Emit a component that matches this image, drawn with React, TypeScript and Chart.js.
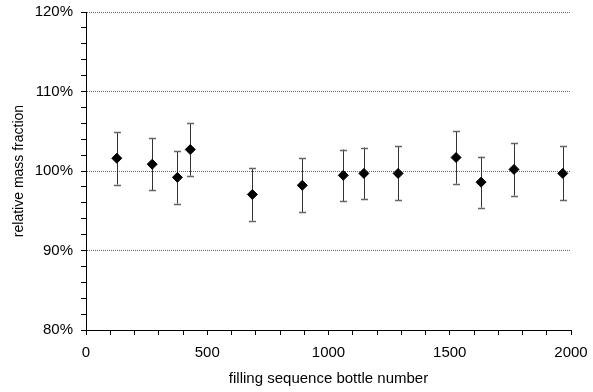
import React, { useEffect, useRef } from "react";
import { Chart, registerables } from "chart.js";

Chart.register(...registerables);

const bottleNumbers = [127, 273, 377, 430, 686, 892, 1061, 1146, 1287, 1526, 1629, 1765, 1966];
const massFraction = [101.6, 100.85, 99.2, 102.7, 97.05, 98.2, 99.45, 99.7, 99.7, 101.7, 98.6, 100.2, 99.7];
const errorHalf = [3.3, 3.3, 3.3, 3.3, 3.3, 3.4, 3.25, 3.25, 3.4, 3.3, 3.2, 3.3, 3.4];
const yMajorTicks = [80, 90, 100, 110, 120];
const xMajorTicks = [0, 500, 1000, 1500, 2000];

const FONT = "'Liberation Sans', Arial, sans-serif";

const errorBarPlugin = {
  id: "errorBars",
  beforeDatasetsDraw(chart: any) {
    const { ctx, scales } = chart;
    const xs = scales.x;
    const ys = scales.y;
    ctx.save();
    bottleNumbers.forEach((bx, i) => {
      const px = Math.round(xs.getPixelForValue(bx)) + 0.5;
      const top = ys.getPixelForValue(massFraction[i] + errorHalf[i]);
      const bot = ys.getPixelForValue(massFraction[i] - errorHalf[i]);
      ctx.strokeStyle = "#333";
      ctx.lineWidth = 1;
      ctx.beginPath();
      ctx.moveTo(px, top);
      ctx.lineTo(px, bot);
      ctx.stroke();
      ctx.strokeStyle = "#666";
      ctx.lineWidth = 1.5;
      ctx.beginPath();
      ctx.moveTo(px - 3.5, Math.round(top) + 0.5);
      ctx.lineTo(px + 3.5, Math.round(top) + 0.5);
      ctx.moveTo(px - 3.5, Math.round(bot) + 0.5);
      ctx.lineTo(px + 3.5, Math.round(bot) + 0.5);
      ctx.stroke();
    });
    ctx.restore();
  },
};

export default function App() {
  const ref = useRef<HTMLCanvasElement>(null);
  useEffect(() => {
    const canvas = ref.current;
    if (!canvas) return;
    const chart = new Chart(canvas, {
      type: "scatter",
      data: {
        datasets: [
          {
            data: bottleNumbers.map((x, i) => ({ x, y: massFraction[i] })),
            pointStyle: "rectRot",
            pointRadius: 5,
            pointBackgroundColor: "#000",
            pointBorderColor: "#000",
            pointBorderWidth: 1,
            showLine: false,
          },
        ],
      },
      options: {
        responsive: false,
        animation: false,
        devicePixelRatio: 1,
        layout: { padding: { left: 4, right: 22, top: 12, bottom: 4 } },
        plugins: { legend: { display: false }, tooltip: { enabled: false } },
        scales: {
          x: {
            type: "linear",
            min: 0,
            max: 2000,
            afterFit: (s: any) => {
              s.height = 58;
              s.paddingLeft = 0;
              s.paddingRight = 0;
            },
            ticks: {
              stepSize: 100,
              autoSkip: false,
              maxRotation: 0,
              padding: 9,
              color: "#000",
              font: { family: FONT, size: 15 },
              callback: (v: any) => (xMajorTicks.includes(Number(v)) ? String(v) : ""),
            },
            grid: {
              drawOnChartArea: false,
              drawTicks: true,
              tickLength: 5,
              tickColor: "#000",
            },
            border: { display: true, color: "#000", width: 1 },
            title: {
              display: true,
              text: "filling sequence bottle number",
              color: "#000",
              font: { family: FONT, size: 15 },
              padding: { top: 0, bottom: 0 },
            },
          },
          y: {
            type: "linear",
            min: 80,
            max: 120,
            afterFit: (s: any) => {
              s.width = 82;
              s.paddingTop = 0;
              s.paddingBottom = 0;
            },
            ticks: {
              stepSize: 2,
              autoSkip: false,
              padding: 8,
              color: "#000",
              font: { family: FONT, size: 15 },
              callback: (v: any) => (yMajorTicks.includes(Number(v)) ? v + "%" : ""),
            },
            grid: {
              drawTicks: true,
              tickLength: 5,
              tickColor: "#000",
              color: (c: any) =>
                c.tick && yMajorTicks.includes(c.tick.value) && c.tick.value !== 80 ? "#666" : "rgba(0,0,0,0)",
              lineWidth: 1,
            },
            border: { display: true, color: "#000", width: 1, dash: [1, 1] },
            title: {
              display: true,
              text: "relative mass fraction",
              color: "#000",
              font: { family: FONT, size: 14 },
              padding: { top: 7, bottom: 0 },
            },
          },
        },
      },
      plugins: [errorBarPlugin],
    });
    return () => chart.destroy();
  }, []);
  return (
    <div style={{ position: "fixed", left: 0, top: 0, width: 593, height: 392, background: "#fff" }}>
      <canvas ref={ref} width={593} height={392} style={{ width: 593, height: 392, display: "block" }} />
    </div>
  );
}
